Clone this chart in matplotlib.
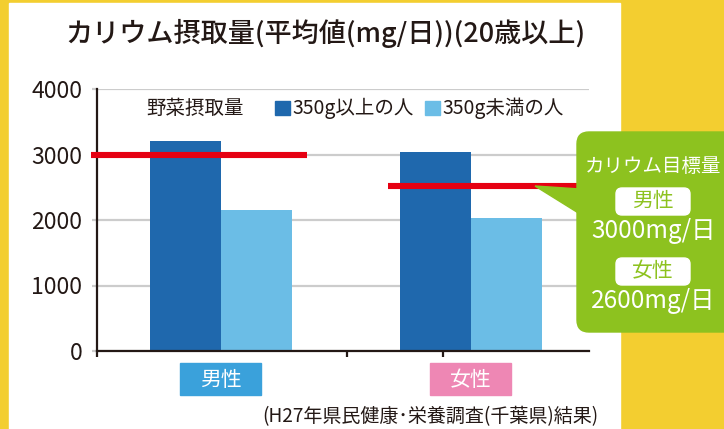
import numpy as np
import matplotlib
matplotlib.use('Agg')
import matplotlib.pyplot as plt
from matplotlib.patches import Rectangle, FancyBboxPatch, Polygon
from matplotlib.transforms import Affine2D

plt.rcParams['font.family'] = ['Noto Sans CJK JP', 'DejaVu Sans']

# ---- data ----
categories = ['男性', '女性']
series_names = ['350g以上の人', '350g未満の人']
high_veg = [3200, 3040]
low_veg = [2150, 2030]
target_line_levels = [3000, 2520]
target_labels = ['3000mg/日', '2600mg/日']
yticks = [0, 1000, 2000, 3000, 4000]
title = 'カリウム摂取量(平均値(mg/日))(20歳以上)'
legend_title = '野菜摂取量'
callout_title = 'カリウム目標量'
source = '(H27年県民健康･栄養調査(千葉県)結果)'

# ---- style ----
YELLOW = '#F3CE30'
DARK = '#1F68AD'
LIGHT = '#6BBDE6'
RED = '#E60012'
GREEN = '#8DC21F'
TXT = '#231815'
GRID = '#CCCCCC'
CAT_COLORS = ['#3AA1DB', '#EE87B4']
W, H = 724, 429

fig = plt.figure(figsize=(W / 100, H / 100), dpi=100)
fig.patch.set_facecolor(YELLOW)
px = Affine2D().scale(1 / W, -1 / H).translate(0, 1) + fig.transFigure

fig.add_artist(Rectangle((9, 3), 611, 430, transform=px, color='white', zorder=0))

ax = fig.add_axes([97 / W, (H - 351) / H, (589 - 97) / W, (351 - 89) / H])
ax.set_facecolor('none')
x = np.arange(len(categories))
bw = 0.284
ax.bar(x - bw / 2, high_veg, bw, color=DARK, zorder=3)
ax.bar(x + bw / 2, low_veg, bw, color=LIGHT, zorder=3)
ax.set_xlim(-0.496, 1.472)
ax.set_ylim(0, 4000)

# target lines
spans = [(-0.52, 0.344), (0.668, 1.424)]
for lvl, (a, b) in zip(target_line_levels, spans):
    ax.plot([a, b], [lvl, lvl], color=RED, lw=4.4, zorder=6, clip_on=False,
            solid_capstyle='butt')

ax.set_yticks(yticks)
ax.set_yticklabels([str(t) for t in yticks])
ax.yaxis.grid(True, color=GRID, lw=1.6, zorder=0)
ax.set_axisbelow(True)
for s in ['top', 'right']:
    ax.spines[s].set_visible(False)
for s in ['left', 'bottom']:
    ax.spines[s].set_color(TXT)
    ax.spines[s].set_linewidth(1.6)
    ax.spines[s].set_zorder(5)
ax.tick_params(axis='y', length=3.6, width=1.6, color=GRID, pad=7,
               labelsize=16.5, labelcolor=TXT)
ax.yaxis.get_major_ticks()[0].tick1line.set_color(TXT)
ax.set_xticks([-0.496, 0.504, 0.888])
ax.set_xticklabels(['', '', ''])
ax.tick_params(axis='x', length=4, width=1.6, color=TXT)

# title
fig.text(325, 33, title, transform=px, ha='center', va='center',
         fontsize=19.5, fontweight='medium', color=TXT)

# legend
fig.text(146, 108, legend_title, transform=px, ha='left', va='center',
         fontsize=14, color=TXT)
for col, name, x0 in zip([DARK, LIGHT], series_names, [275, 425]):
    fig.add_artist(Rectangle((x0, 101), 15, 14, transform=px, color=col))
    fig.text(x0 + 17, 108, name, transform=px, ha='left', va='center',
             fontsize=14, color=TXT)

# category label boxes
for i, (cat, col) in enumerate(zip(categories, CAT_COLORS)):
    cx = ax.transData.transform((x[i], 0))[0]
    fig.add_artist(Rectangle((cx - 41, 363), 81, 32, transform=px, color=col))
    fig.text(cx, 379.5, cat, transform=px, ha='center', va='center',
             fontsize=15, color='white')

# callout
fig.add_artist(Polygon([(535, 186), (580, 189), (580, 214)], closed=True,
                       transform=px, color=GREEN, zorder=5))
fig.add_artist(FancyBboxPatch((577, 132), 160, 200,
                              boxstyle='round,pad=0,rounding_size=12',
                              transform=px, color=GREEN, zorder=5))
fig.text(653, 166, callout_title, transform=px, ha='center', va='center',
         fontsize=14, color='white', zorder=7)
for lab, yb, val in zip(categories, [188, 258], target_labels):
    fig.add_artist(FancyBboxPatch((616, yb), 74, 27,
                                  boxstyle='round,pad=0,rounding_size=6',
                                  transform=px, color='white', zorder=6))
    fig.text(653, yb + 13, lab, transform=px, ha='center', va='center',
             fontsize=15, color=GREEN, zorder=7)
    fig.text(653, yb + 43, val, transform=px, ha='center', va='center',
             fontsize=17.5, color='white', zorder=7)

# source
fig.text(598, 417, source, transform=px, ha='right', va='center',
         fontsize=13.7, color=TXT)

fig.savefig('out.png', dpi=100, facecolor=fig.get_facecolor())
